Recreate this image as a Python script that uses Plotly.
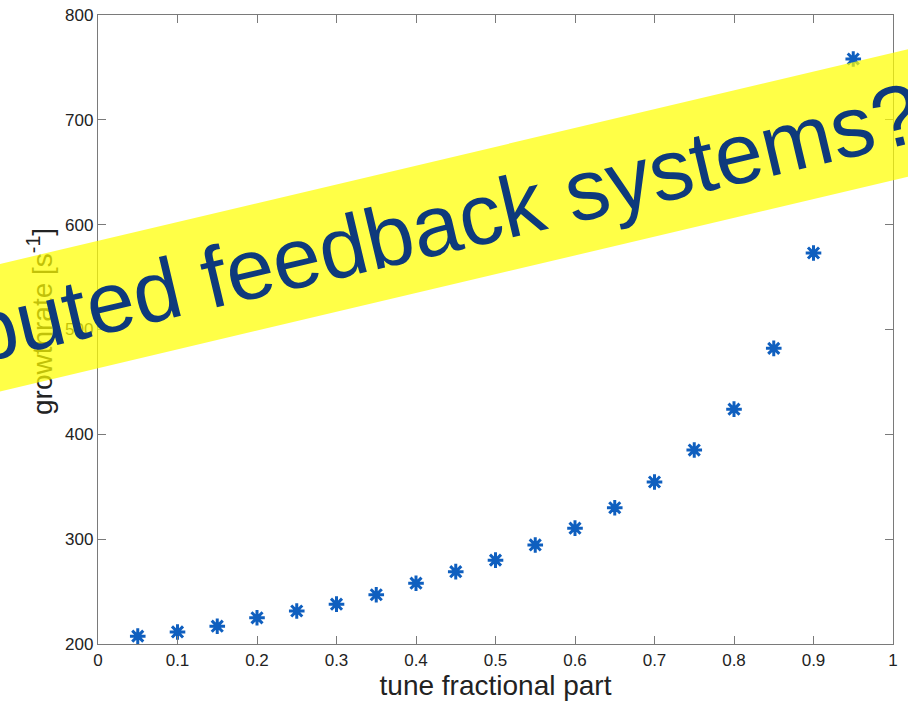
import plotly.graph_objects as go

tune = [0.05, 0.10, 0.15, 0.20, 0.25, 0.30, 0.35, 0.40, 0.45, 0.50,
        0.55, 0.60, 0.65, 0.70, 0.75, 0.80, 0.85, 0.90, 0.95]
growth = [207.5, 211.5, 217, 225, 231.5, 238, 247, 258, 269, 280,
          294.5, 310.5, 330, 354.5, 385, 424, 482, 573, 758]
x_ticks = [0, 0.1, 0.2, 0.3, 0.4, 0.5, 0.6, 0.7, 0.8, 0.9, 1]
x_tick_text = ["0", "0.1", "0.2", "0.3", "0.4", "0.5", "0.6", "0.7", "0.8", "0.9", "1"]
y_ticks = [200, 300, 400, 500, 600, 700, 800]

FONT = "Liberation Sans, Arial, sans-serif"
W, H = 908, 705
ML, MR, MT, MB = 98, 15, 15, 61
PW, PH = W - ML - MR, H - MT - MB


def px(xp):
    return (xp - ML) / PW


def py(yp):
    return (H - MB - yp) / PH


fig = go.Figure()
fig.add_trace(go.Scatter(
    x=tune, y=growth, mode="markers",
    marker=dict(symbol="asterisk-open", size=13, color="#0f5fbf",
                line=dict(color="#0f5fbf", width=3)),
    showlegend=False, cliponaxis=False,
))

axis_common = dict(
    showline=True, mirror="allticks", linecolor="#7a7a7a", linewidth=1.3,
    ticks="inside", ticklen=8, tickwidth=1.2, tickcolor="#7a7a7a",
    showgrid=False, zeroline=False, automargin=False,
    tickfont=dict(family=FONT, size=17, color="#222222"),
)

fig.update_xaxes(range=[0, 1], tickvals=x_ticks, ticktext=x_tick_text,
                 title=dict(text="tune fractional part", standoff=6,
                            font=dict(family=FONT, size=28, color="#222222")),
                 **axis_common)
fig.update_yaxes(range=[200, 800], tickvals=y_ticks, **axis_common)

# y-axis title drawn as annotation so the banner can sit above it
fig.add_annotation(
    text="growthrate [s<sup>-1</sup>]", textangle=-90,
    xref="paper", yref="paper", x=px(40), y=py(322),
    xanchor="center", yanchor="middle", showarrow=False,
    font=dict(family=FONT, size=28, color="#222222"),
)

# yellow banner with text
fig.add_annotation(
    text="distributed feedback systems?", textangle=-13.3,
    xref="paper", yref="paper", x=px(356), y=py(243),
    xanchor="center", yanchor="middle", showarrow=False,
    width=1700, height=123, align="center", valign="middle", borderpad=0,
    bgcolor="rgba(255,255,0,0.72)",
    font=dict(family=FONT, size=86, color="#0e3a7c"),
)

fig.update_layout(
    width=W, height=H,
    margin=dict(l=ML, r=MR, t=MT, b=MB),
    plot_bgcolor="white", paper_bgcolor="white",
)

fig.write_html("out.html")
